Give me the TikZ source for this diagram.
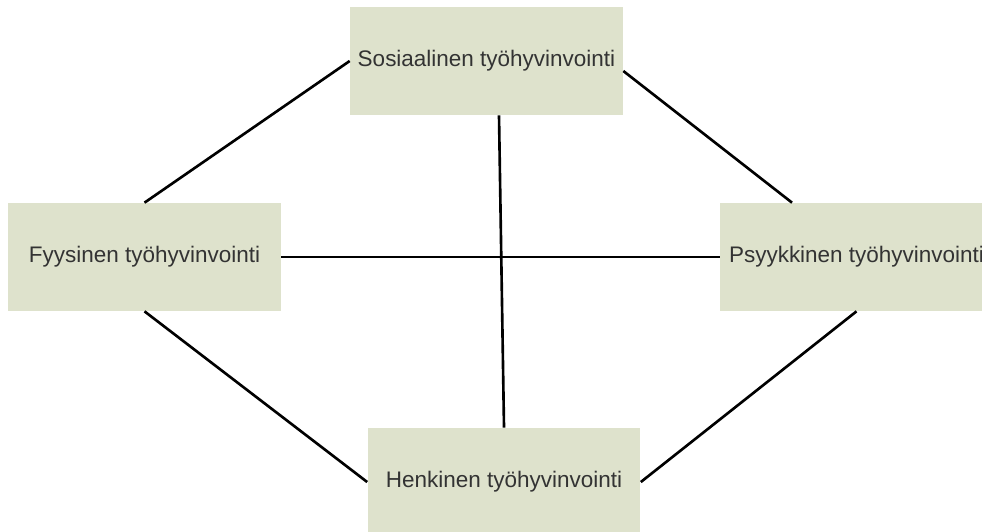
\documentclass[tikz,border=0pt]{standalone}
\usepackage{fontspec}
\setmainfont{Liberation Sans}
\usetikzlibrary{calc,positioning}
\definecolor{laatikko}{RGB}{222,226,204}
\tikzset{
  alue/.style={fill=laatikko,minimum width=5.46cm,minimum height=2.16cm,
    inner sep=0pt,font=\fontsize{12.8}{15}\selectfont,text=black!80},
  yhteys/.style={line width=1.5pt}
}

\begin{document}
\begin{tikzpicture}[x=0.02cm,y=-0.02cm]
        \useasboundingbox (0,0) rectangle (982,531);
        \clip (0,0) rectangle (982,531);
        \node[alue] (soc) at (486.5,61) {Sosiaalinen työhyvinvointi};
        \node[alue] (fyy) at (144.5,257) {Fyysinen työhyvinvointi};
        \node[alue] (psy) at (856.5,257) {Psyykkinen työhyvinvointi};
        \node[alue] (hen) at (504,482) {Henkinen työhyvinvointi};
        \draw[yhteys] (soc.west)--(fyy.north);
        \draw[yhteys] ([yshift=-0.2cm]soc.east)--([xshift=-1.29cm]psy.north);
        \draw[yhteys] (fyy.south)--(hen.west);
        \draw[yhteys] (hen.east)--(psy.south);
        \draw[yhteys] ([xshift=0.25cm]soc.south)--(hen.north);
        \draw[yhteys] (fyy.east)--(psy.west);
    \end{tikzpicture}
\end{document}
